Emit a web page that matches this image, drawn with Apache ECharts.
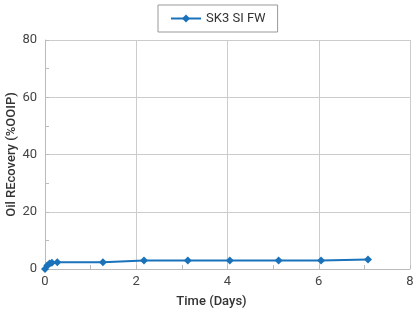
<!DOCTYPE html>
<html>
<head>
<meta charset="utf-8">
<script src="https://cdn.jsdelivr.net/npm/echarts@6/dist/echarts.min.js"></script>
<style>
  html, body { margin: 0; padding: 0; background: #fff; }
  #chart { width: 415px; height: 313px; }
</style>
</head>
<body>
<div id="chart"></div>
<script>
// SK3 SI FW oil recovery vs time
const days = [0, 0.05, 0.1, 0.15, 0.27, 1.27, 2.17, 3.13, 4.05, 5.12, 6.05, 7.08];
const recovery = [0, 1.2, 1.9, 2.2, 2.4, 2.4, 3.0, 3.0, 3.0, 3.0, 3.0, 3.3];
const seriesName = 'SK3 SI FW';

const myChart = echarts.init(document.getElementById('chart'));
const axisFont = { color: '#444', fontSize: 13, fontFamily: 'Roboto' };

myChart.setOption({
  animation: false,
  textStyle: { fontFamily: 'Roboto' },
  grid: { left: 45, right: 5, top: 40, bottom: 44, containLabel: false, outerBoundsMode: 'none' },
  legend: {
    top: 5,
    left: 158,
    data: [seriesName],
    borderColor: '#999',
    borderWidth: 1,
    borderRadius: 0,
    padding: [7, 12],
    itemWidth: 30,
    itemHeight: 10,
    textStyle: { color: '#333', fontSize: 13, fontFamily: 'Roboto' }
  },
  xAxis: {
    type: 'value',
    min: 0, max: 8, interval: 2,
    name: 'Time (Days)',
    nameLocation: 'middle',
    nameGap: 26,
    nameMoveOverlap: false,
    nameTextStyle: { color: '#333', fontSize: 13, fontWeight: 500, fontFamily: 'Roboto', padding: [0, 32, 0, 0] },
    axisLine: { show: true, lineStyle: { color: '#bbb' } },
    axisTick: { show: true, inside: true, length: 4, lineStyle: { color: '#bbb' } },
    minorTick: { show: true, splitNumber: 2, length: 4, lineStyle: { color: '#bbb' } },
    axisLabel: Object.assign({ margin: 6 }, axisFont),
    splitLine: { show: true, lineStyle: { color: '#ccc' } }
  },
  yAxis: {
    type: 'value',
    min: 0, max: 80, interval: 20,
    name: 'Oil REcovery (%OOIP)',
    nameLocation: 'middle',
    nameGap: 27,
    nameMoveOverlap: false,
    nameTextStyle: { color: '#333', fontSize: 13, fontWeight: 500, fontFamily: 'Roboto' },
    axisLine: { show: true, lineStyle: { color: '#bbb' } },
    axisTick: { show: true, inside: true, length: 4, lineStyle: { color: '#bbb' } },
    minorTick: { show: true, splitNumber: 2, length: 4, lineStyle: { color: '#bbb' } },
    axisLabel: Object.assign({ margin: 8 }, axisFont),
    splitLine: { show: true, lineStyle: { color: '#ccc' } }
  },
  series: [{
    name: seriesName,
    type: 'line',
    data: days.map((d, i) => [d, recovery[i]]),
    symbol: 'diamond',
    symbolSize: 8,
    showAllSymbol: true,
    itemStyle: { color: '#1a72bb' },
    lineStyle: { color: '#1a72bb', width: 2 }
  }]
});

window.addEventListener('resize', function() {
  myChart.resize();
});
</script>
</body>
</html>
